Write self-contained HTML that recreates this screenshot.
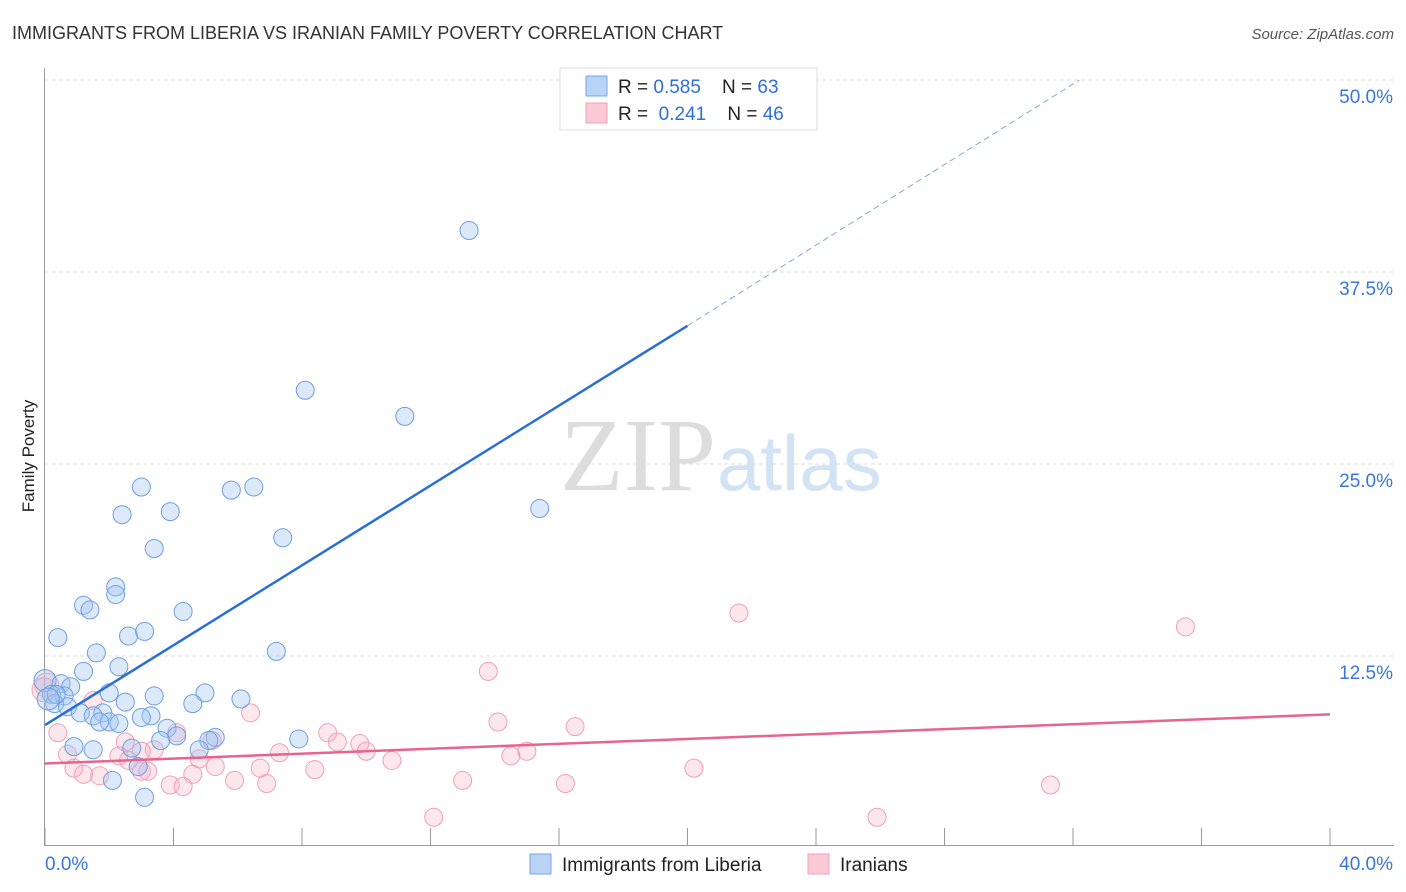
<!DOCTYPE html>
<html><head><meta charset="utf-8"><style>
body{margin:0;background:#fff;font-family:"Liberation Sans",sans-serif;}
svg{display:block}
text{white-space:pre}
</style></head><body>
<svg id="chart" width="1406" height="892">
<text x="12" y="39" font-size="18" fill="#333">IMMIGRANTS FROM LIBERIA VS IRANIAN FAMILY POVERTY CORRELATION CHART</text>
<text x="1394" y="39" font-size="15" fill="#555" font-style="italic" text-anchor="end">Source: ZipAtlas.com</text>
<text x="34" y="456" font-size="17" fill="#222" text-anchor="middle" transform="rotate(-90 34 456)">Family Poverty</text>
<text x="716" y="490" font-size="104" fill="#ddd" text-anchor="end" font-family="Liberation Serif,serif">ZIP</text>
<text x="717" y="490" font-size="78" fill="#d3e3f6">atlas</text>
<g id="grid"></g><g id="axes"></g><g id="pts"></g><g id="trends"></g>
<g>
<rect x="560" y="68" width="257" height="62" fill="#fff" stroke="#ddd"/>
<rect x="586" y="76" width="21" height="20" fill="#b8d3f5" stroke="#7aa6e0"/>
<rect x="586" y="103" width="21" height="20" fill="#fcc9d7" stroke="#f0a0b8"/>
<text x="618" y="93" font-size="19" fill="#222">R = <tspan fill="#2f6fd6">0.585</tspan>    N = <tspan fill="#2f6fd6">63</tspan></text>
<text x="618" y="120" font-size="19" fill="#222">R =  <tspan fill="#2f6fd6">0.241</tspan>    N = <tspan fill="#2f6fd6">46</tspan></text>
</g>
<g>
<rect x="530" y="854" width="21" height="20" fill="#b8d3f5" stroke="#7aa6e0"/>
<text x="562" y="871" font-size="19" fill="#222">Immigrants from Liberia</text>
<rect x="808" y="854" width="21" height="20" fill="#fcc9d7" stroke="#f0a0b8"/>
<text x="840" y="871" font-size="19" fill="#222">Iranians</text>
</g>
</svg>
<script>
const yTicks=[12.5,25,37.5,50];
const yTickLabels=["12.5%","25.0%","37.5%","50.0%"];
const xTicks=[0,4,8,12,16,20,24,28,32,36,40];
const liberiaX=[13.2,8.1,11.2,3.0,6.5,15.4,3.9,2.4,7.4,3.4,2.2,2.2,1.2,1.4,4.3,0.4,2.6,3.1,7.2,1.6,2.3,1.2,0.0,0.5,0.8,0.2,0.6,2.0,3.4,4.98,6.1,2.5,0.3,0.7,4.6,1.8,1.1,1.5,3.3,2.0,1.7,2.3,3.0,3.8,4.1,5.3,5.1,3.6,0.9,1.5,2.7,4.8,7.9,2.9,2.1,3.1,0.35,0.1,5.8];
const liberiaY=[40.2,29.8,28.1,23.5,23.5,22.1,21.9,21.7,20.2,19.5,17.0,16.5,15.8,15.5,15.4,13.7,13.8,14.1,12.8,12.7,11.8,11.5,10.9,10.7,10.5,10.0,9.9,10.1,9.9,10.1,9.7,9.5,9.4,9.2,9.4,8.8,8.8,8.6,8.6,8.2,8.2,8.1,8.5,7.8,7.3,7.2,7.0,7.0,6.6,6.4,6.5,6.4,7.1,5.3,4.4,3.3,10.0,9.7,23.3];
const iranX=[21.6,35.5,13.8,6.4,14.1,16.5,8.8,4.1,5.2,9.1,9.8,15.0,10.0,10.8,14.5,2.5,1.5,0.4,0.7,3.4,3.0,2.3,0.9,4.8,5.3,6.7,8.4,20.2,1.2,1.7,4.6,3.0,3.2,5.9,6.9,3.9,4.3,13.0,16.2,31.3,12.1,25.9,0.05,-0.03,7.3,2.6];
const iranY=[15.3,14.4,11.5,8.8,8.2,7.9,7.5,7.5,7.0,6.9,6.8,6.3,6.3,5.7,6.0,6.9,9.6,7.5,6.1,6.4,6.3,6.0,5.2,5.8,5.3,5.2,5.1,5.2,4.8,4.7,4.8,5.0,5.0,4.4,4.2,4.1,4.0,4.4,4.2,4.1,2.0,2.0,10.6,10.3,6.2,5.7];
const liberiaTrend=[[0,8.0],[20,34.0],[32.2,50]];
const iranTrend=[[0,5.5],[40,8.7]];
const sx=v=>45+v*32.125, sy=v=>848-v*15.36;
const NS="http://www.w3.org/2000/svg";
function mk(p,t,a){const e=document.createElementNS(NS,t);for(const k in a)e.setAttribute(k,a[k]);document.getElementById(p).appendChild(e);return e;}
yTicks.forEach((v,i)=>{
 const l=mk('grid','line',{x1:45,x2:1394,y1:sy(v),y2:sy(v),stroke:'#ddd','stroke-dasharray':'4,3'});
 
 
 const t=mk('grid','text',{x:1393,y:sy(v)+23,'font-size':19,fill:'#3a75d8','text-anchor':'end'});
 t.textContent=yTickLabels[i];
 
 
});
const ax=mk('axes','line',{x1:44.5,x2:44.5,y1:68,y2:846,stroke:'#999'});


const bx=mk('axes','line',{x1:44,x2:1394,y1:845.5,y2:845.5,stroke:'#999'});


xTicks.forEach(v=>{const t=mk('axes','line',{x1:sx(v),x2:sx(v),y1:828,y2:846,stroke:'#999'});
 
 });
const x0=mk('axes','text',{x:45,y:870,'font-size':19,fill:'#3a75d8'});x0.textContent='0.0%';


const x1=mk('axes','text',{x:1393,y:870,'font-size':19,fill:'#3a75d8','text-anchor':'end'});x1.textContent='40.0%';


iranX.forEach((v,i)=>{const c=mk('pts','circle',{cx:sx(v),cy:sy(iranY[i]),r:(v<0.2?12:9),fill:'rgba(246,175,196,0.3)',stroke:'#eea0b6','stroke-width':1});
 
 });
liberiaX.forEach((v,i)=>{const c=mk('pts','circle',{cx:sx(v),cy:sy(liberiaY[i]),r:(v<0.2?11:9),fill:'rgba(160,198,242,0.38)',stroke:'#6f9edf','stroke-width':1});
 
 });
const lt=mk('trends','line',{x1:sx(liberiaTrend[0][0]),y1:sy(liberiaTrend[0][1]),x2:sx(liberiaTrend[1][0]),y2:sy(liberiaTrend[1][1]),stroke:'#2a6fd6','stroke-width':2.5});


const ld=mk('trends','line',{x1:sx(liberiaTrend[1][0]),y1:sy(liberiaTrend[1][1]),x2:sx(liberiaTrend[2][0]),y2:sy(liberiaTrend[2][1]),stroke:'#7aa6e0','stroke-width':1,'stroke-dasharray':'6,4'});


const it=mk('trends','line',{x1:sx(iranTrend[0][0]),y1:sy(iranTrend[0][1]),x2:sx(iranTrend[1][0]),y2:sy(iranTrend[1][1]),stroke:'#e8648e','stroke-width':2.5});


</script>
</body></html>
